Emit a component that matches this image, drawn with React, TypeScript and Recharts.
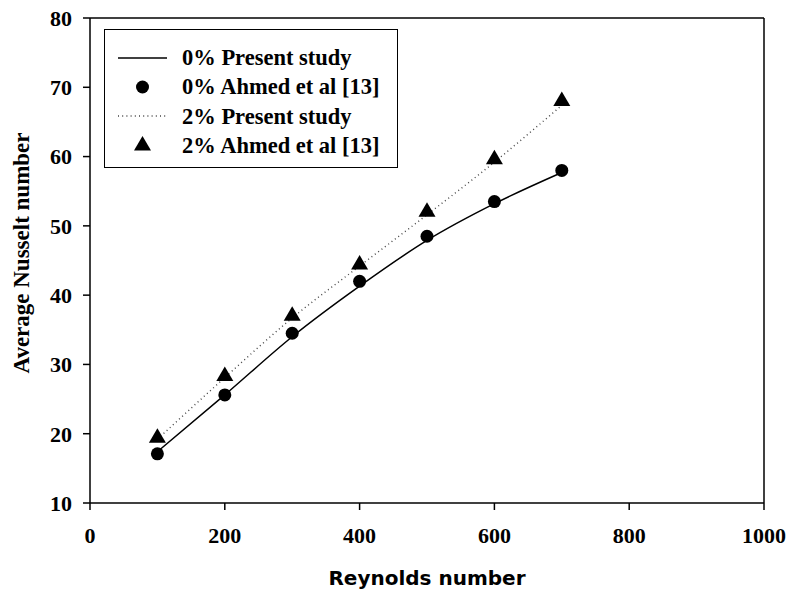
import {
  ComposedChart,
  Line,
  Scatter,
  XAxis,
  YAxis,
  ReferenceLine,
} from 'recharts';

const reynolds = [100, 200, 300, 400, 500, 600, 700];
const present0 = [17.4, 25.6, 34.0, 41.3, 47.9, 53.2, 57.7];
const ahmed0 = [17.1, 25.6, 34.5, 42.0, 48.5, 53.5, 58.0];
const present2 = [19.2, 28.1, 36.7, 44.2, 51.6, 59.2, 67.4];
const ahmed2 = [19.5, 28.4, 37.1, 44.5, 52.1, 59.7, 68.1];

const xTicks = [0, 200, 400, 600, 800, 1000];
const yTicks = [10, 20, 30, 40, 50, 60, 70, 80];

const legendLabels = [
  '0% Present study',
  '0% Ahmed et al [13]',
  '2% Present study',
  '2% Ahmed et al [13]',
];

const toPoints = (ys: number[]) => reynolds.map((re, i) => ({ re, nu: ys[i] }));

const serif = '"Liberation Serif", "Times New Roman", serif';
const tickStyle = { fill: '#000', fontSize: 22, fontWeight: 700, fontFamily: serif };

const Dot = (props: any) => <circle cx={props.cx} cy={props.cy} r={6.5} fill="#000" />;
const Tri = (props: any) => {
  const { cx, cy } = props;
  return <polygon points={`${cx},${cy - 9} ${cx - 8.5},${cy + 5.5} ${cx + 8.5},${cy + 5.5}`} fill="#000" />;
};

function LegendBox() {
  const icons = [
    <line x1={0} y1={8} x2={49} y2={8} stroke="#000" strokeWidth={1.5} />,
    <circle cx={24.5} cy={8} r={6.5} fill="#000" />,
    <line x1={0} y1={8} x2={49} y2={8} stroke="#444" strokeWidth={1.3} strokeDasharray="1 3.2" />,
    <polygon points="24.5,-1 16,13.5 33,13.5" fill="#000" />,
  ];
  return (
    <div
      style={{
        position: 'absolute',
        left: 104,
        top: 29,
        width: 294,
        height: 139,
        border: '1.5px solid #000',
        boxSizing: 'border-box',
        background: '#fff',
        fontFamily: serif,
        fontWeight: 700,
        fontSize: 22.5,
        color: '#000',
      }}
    >
      {legendLabels.map((label, i) => (
        <div
          key={label}
          style={{
            position: 'absolute',
            left: 0,
            top: 13 + i * 29.3,
            height: 29.3,
            lineHeight: '29.3px',
            whiteSpace: 'nowrap',
          }}
        >
          <svg width={49} height={16} style={{ position: 'absolute', left: 13, top: 6.6, overflow: 'visible' }}>
            {icons[i]}
          </svg>
          <span style={{ position: 'absolute', left: 77, top: 0 }}>{label}</span>
        </div>
      ))}
    </div>
  );
}

export default function App() {
  return (
    <div style={{ position: 'absolute', left: 0, top: 0, width: 788, height: 592, background: '#fff' }}>
      <ComposedChart width={788} height={592} margin={{ top: 18, right: 24, bottom: 0, left: 0 }}>
        <XAxis
          type="number"
          dataKey="re"
          domain={[0, 1000]}
          ticks={xTicks}
          tick={tickStyle}
          tickSize={7}
          tickMargin={17}
          height={89}
          axisLine={{ stroke: '#000', strokeWidth: 1.5 }}
          tickLine={{ stroke: '#000', strokeWidth: 1.5 }}
          allowDataOverflow
          label={{
            content: ({ viewBox }: any) => (
              <text
                x={viewBox.x + viewBox.width / 2}
                y={viewBox.y + 82}
                textAnchor="middle"
                fontFamily='"DejaVu Sans", sans-serif'
                fontWeight={700}
                fontSize={20}
                fill="#000"
              >
                Reynolds number
              </text>
            ),
          }}
        />
        <YAxis
          type="number"
          dataKey="nu"
          domain={[10, 80]}
          ticks={yTicks}
          tick={tickStyle}
          tickSize={7}
          tickMargin={11}
          width={90}
          axisLine={{ stroke: '#000', strokeWidth: 1.5 }}
          tickLine={{ stroke: '#000', strokeWidth: 1.5 }}
          allowDataOverflow
          label={{
            content: ({ viewBox }: any) => {
              const x = viewBox.x + 21;
              const y = viewBox.y + 235;
              return (
                <text
                  x={x}
                  y={y}
                  transform={`rotate(-90, ${x}, ${y})`}
                  textAnchor="middle"
                  dominantBaseline="central"
                  fontFamily={serif}
                  fontWeight={700}
                  fontSize={23}
                  fill="#000"
                >
                  Average Nusselt number
                </text>
              );
            },
          }}
        />
        <ReferenceLine y={80} stroke="#000" strokeWidth={1.5} />
        <ReferenceLine x={1000} stroke="#000" strokeWidth={1.5} />
        <Line
          data={toPoints(present0)}
          dataKey="nu"
          type="monotone"
          stroke="#000"
          strokeWidth={1.5}
          dot={false}
          isAnimationActive={false}
        />
        <Line
          data={toPoints(present2)}
          dataKey="nu"
          type="monotone"
          stroke="#444"
          strokeWidth={1.4}
          strokeDasharray="1 3.2"
          dot={false}
          isAnimationActive={false}
        />
        <Scatter data={toPoints(ahmed0)} dataKey="nu" shape={Dot} isAnimationActive={false} />
        <Scatter data={toPoints(ahmed2)} dataKey="nu" shape={Tri} isAnimationActive={false} />
      </ComposedChart>
      <LegendBox />
    </div>
  );
}
